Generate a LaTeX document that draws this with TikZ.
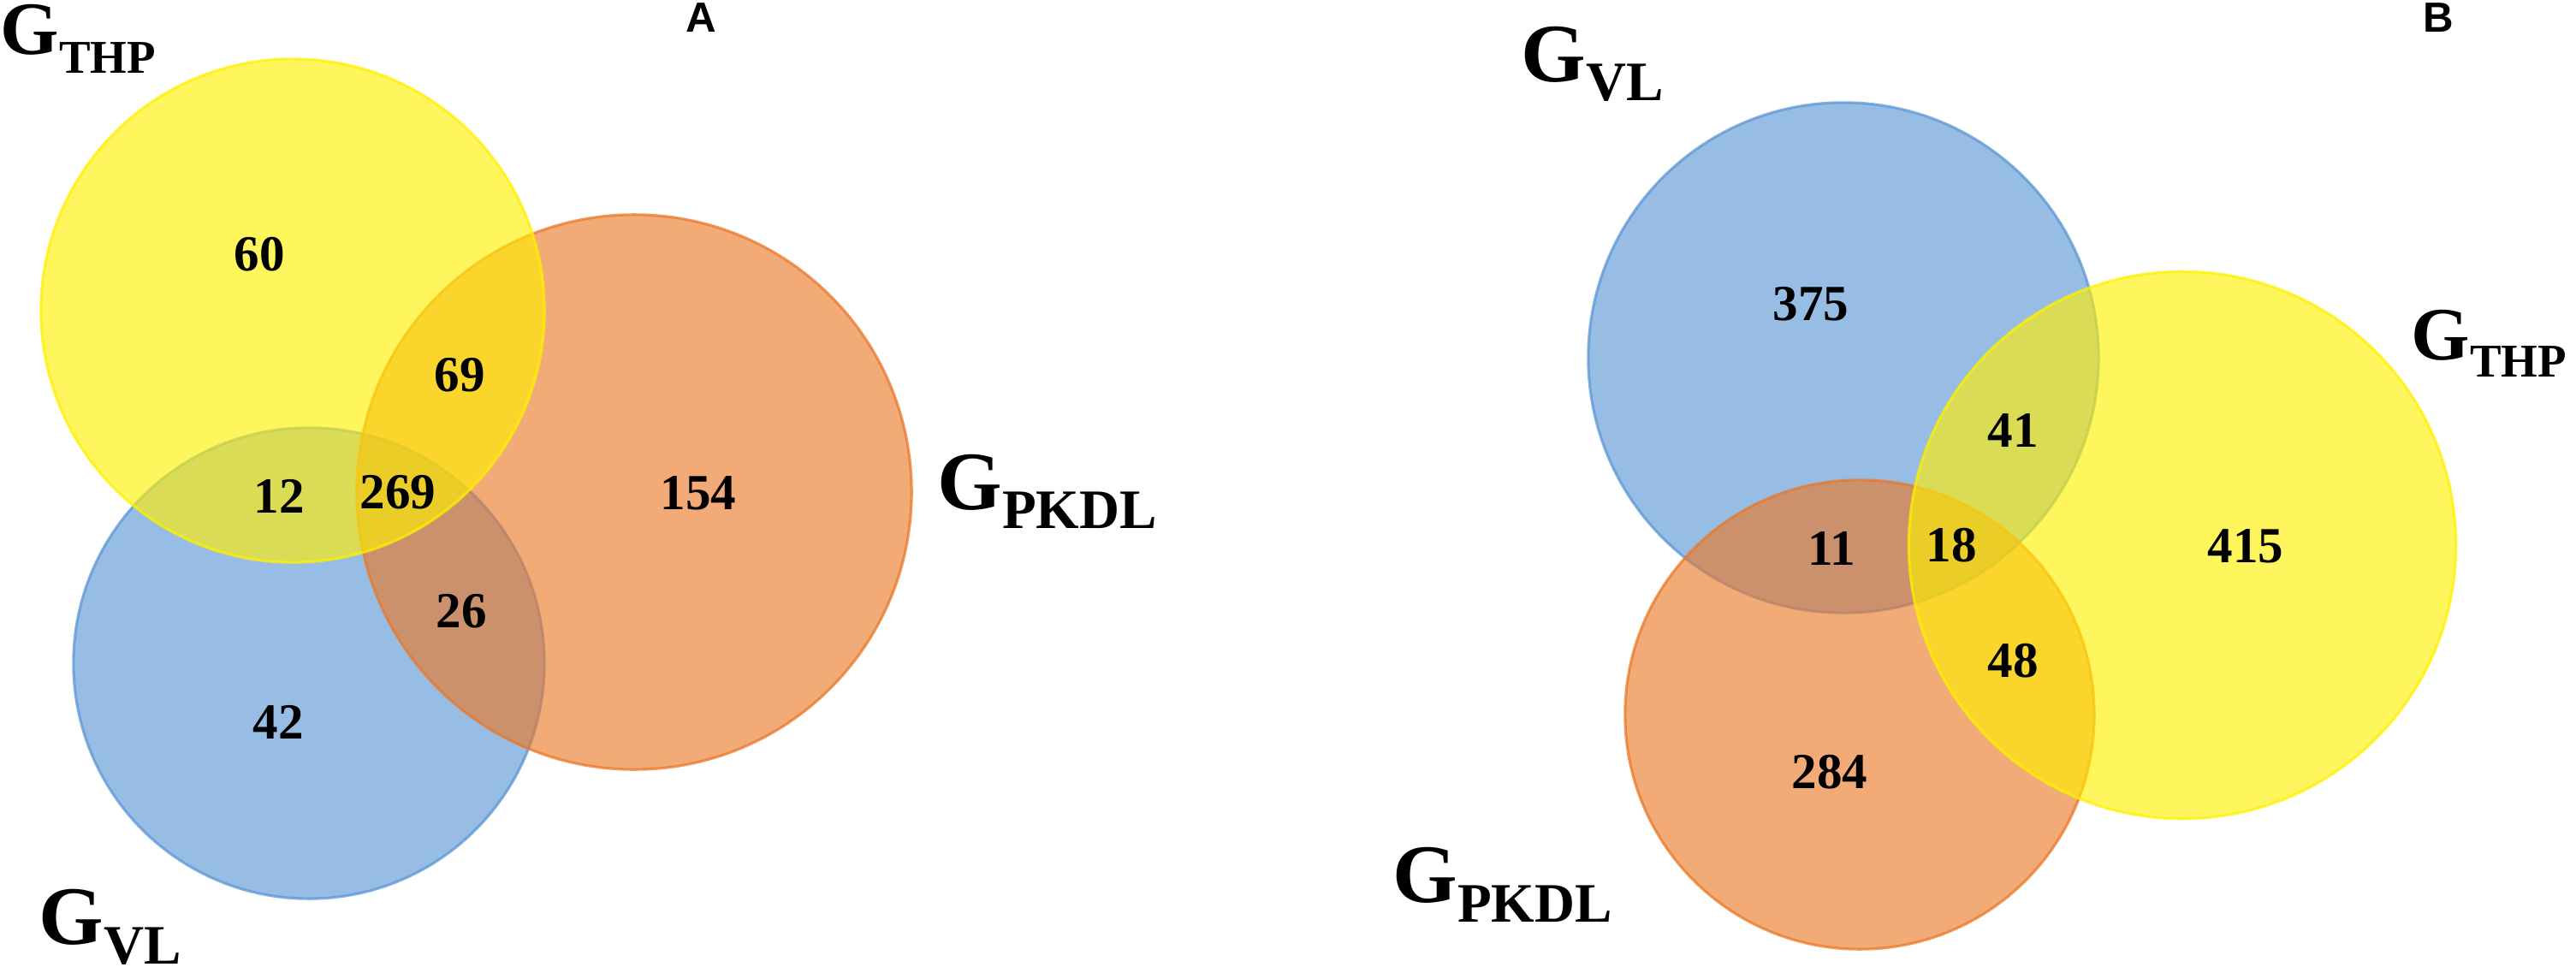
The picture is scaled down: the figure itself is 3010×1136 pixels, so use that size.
\documentclass[tikz,border=0pt]{standalone}
\usepackage{fontspec}
\setmainfont{Liberation Serif}
\newfontfamily\panelsans{Liberation Sans}

\definecolor{vyellow}{RGB}{255,240,0}
\definecolor{vblue}{RGB}{91,150,213}
\definecolor{vorange}{RGB}{234,120,40}

\newcommand\vennlabel[4]{{\fontsize{#1}{#1}\selectfont G}\raisebox{-#3}{\fontsize{#2}{#2}\selectfont #4}}

\tikzset{
  venn/.style={fill opacity=0.63, draw opacity=0.75, line width=0.9pt},
  cnt/.style={font=\fontsize{16.8}{19}\selectfont\bfseries, inner sep=0pt},
  setname/.style={anchor=base west, inner sep=0pt, font=\bfseries},
  panel/.style={font=\panelsans\bfseries\fontsize{14}{16}\selectfont, inner sep=0pt, anchor=base},
}

\begin{document}
\begin{tikzpicture}[x=0.01cm, y=-0.01cm]
\useasboundingbox (0,0) rectangle (3010,1136);

% ---------- Panel A ----------
\draw[venn, fill=vblue, draw=vblue] (361,775) circle[radius=2.75cm];
\draw[venn, fill=vorange, draw=vorange] (741,575) circle[radius=3.24cm];
\draw[venn, fill=vyellow, draw=vyellow] (342,363) circle[radius=2.94cm];

\node[cnt] (a60)  at (303,297) {60};
\node[cnt] (a69)  at (537,438) {69};
\node[cnt] (a12)  at (326,580) {12};
\node[cnt] (a269) at (465,575) {269};
\node[cnt] (a154) at (816,576) {154};
\node[cnt] (a26)  at (539,714) {26};
\node[cnt] (a42)  at (325,844) {42};

\node[setname] (aTHP)  at (0,63)     {\vennlabel{25}{15.6}{6.3pt}{THP}};
\node[setname] (aVL)   at (45,1103)  {\vennlabel{27.6}{18.5}{6.8pt}{VL}};
\node[setname] (aPKDL) at (1095,595) {\vennlabel{27.6}{18.5}{6.5pt}{PKDL}};

\node[panel] (pA) at (819,37) {A};

% ---------- Panel B ----------
\draw[venn, fill=vblue, draw=vblue] (2154,418) circle[radius=2.98cm];
\draw[venn, fill=vorange, draw=vorange] (2173,835) circle[radius=2.74cm];
\draw[venn, fill=vyellow, draw=vyellow] (2550,637) circle[radius=3.195cm];

\node[cnt] (b375) at (2116,355) {375};
\node[cnt] (b41)  at (2352,503) {41};
\node[cnt] (b11)  at (2140,641) {11};
\node[cnt] (b18)  at (2280,637) {18};
\node[cnt] (b415) at (2624,638) {415};
\node[cnt] (b48)  at (2352,772) {48};
\node[cnt] (b284) at (2138,902) {284};

\node[setname] (bVL)   at (1777,95)   {\vennlabel{27.6}{18.5}{6.5pt}{VL}};
\node[setname] (bPKDL) at (1627,1054) {\vennlabel{27.6}{18.5}{6.8pt}{PKDL}};
\node[setname] (bTHP)  at (2817,420)  {\vennlabel{25}{15.6}{5.7pt}{THP}};

\node[panel] (pB) at (2849,37) {B};
\end{tikzpicture}
\end{document}
